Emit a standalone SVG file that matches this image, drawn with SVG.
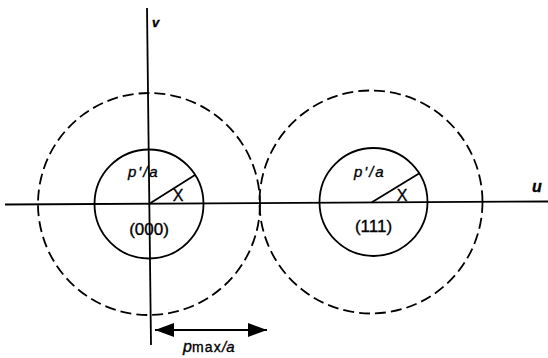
<svg xmlns="http://www.w3.org/2000/svg" width="548" height="358" viewBox="0 0 548 358">
<defs>
<style>
.ln{stroke:#000;stroke-width:1.8;fill:none}
.dash{stroke:#000;stroke-width:1.8;fill:none;stroke-dasharray:11 5}
.t{font-family:"Liberation Sans",Arial,sans-serif;fill:#000;stroke:#000;stroke-width:0.35}
.it{font-style:italic}
</style>
<marker id="ah" viewBox="0 0 19 14" refX="19" refY="7" markerWidth="19" markerHeight="14" markerUnits="userSpaceOnUse" orient="auto-start-reverse">
<path d="M0,0 L19,7 L0,14 Z" fill="#000"/>
</marker>
</defs>
<g id="connectors">
<line id="u-axis" class="ln" x1="5" y1="204.5" x2="548" y2="201.5"/>
<line id="v-axis" class="ln" x1="147" y1="8" x2="151" y2="345"/>
<line id="pmax-arrow" class="ln" x1="155" y1="330" x2="267" y2="330" stroke-width="2.2" marker-start="url(#ah)" marker-end="url(#ah)"/>
</g>
<g id="node-000">
<circle class="dash" cx="149" cy="204" r="111"/>
<circle class="ln" cx="149" cy="204" r="54.5"/>
<line class="ln" x1="149" y1="204" x2="195" y2="175"/>
<text class="t it" x="128" y="177" font-size="15" letter-spacing="2">p'/a</text>
<text class="t" x="178" y="201" font-size="16" text-anchor="middle">X</text>
<text class="t" x="149" y="235" font-size="17" text-anchor="middle">(000)</text>
</g>
<g id="node-111">
<circle class="dash" cx="371" cy="202" r="111.5"/>
<circle class="ln" cx="373.5" cy="202" r="54"/>
<line class="ln" x1="371.5" y1="202.5" x2="419" y2="173.5"/>
<text class="t it" x="354" y="177" font-size="15" letter-spacing="2">p'/a</text>
<text class="t" x="402" y="201" font-size="16" text-anchor="middle">X</text>
<text class="t" x="373.5" y="232" font-size="17" text-anchor="middle">(111)</text>
</g>
<g id="labels">
<text class="t it" x="152" y="27" font-size="13" font-weight="bold">v</text>
<text class="t it" x="532" y="192" font-size="16" font-weight="bold">u</text>
<text class="t" x="183" y="352"><tspan class="it" font-size="16">p</tspan><tspan font-size="14" letter-spacing="1.2">max</tspan><tspan class="it" font-size="15">/a</tspan></text>
</g>
</svg>
